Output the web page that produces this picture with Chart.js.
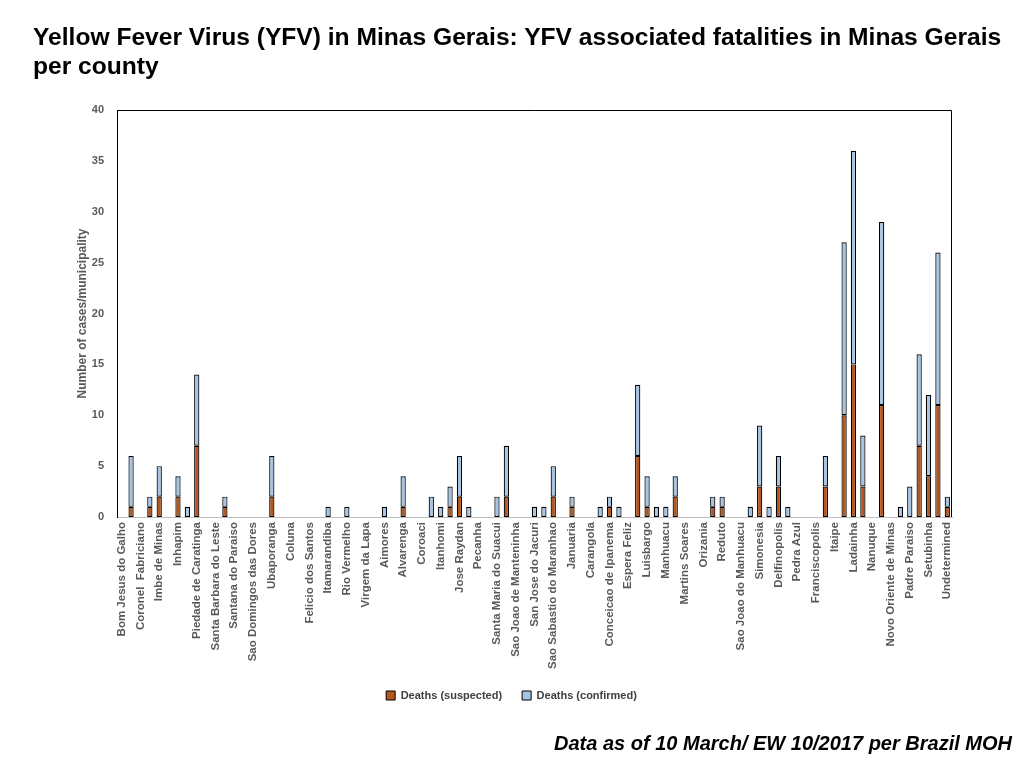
<!DOCTYPE html>
<html>
<head>
<meta charset="utf-8">
<title>YFV fatalities in Minas Gerais</title>
<script src="https://cdn.jsdelivr.net/npm/chart.js@4"></script>
<style>
    html, body { margin: 0; padding: 0; background: #fff; }
    body { width: 1024px; height: 768px; position: relative; overflow: hidden; font-family: "Liberation Sans", Arial, sans-serif; }
    #title { position: absolute; left: 33px; top: 22px; font-size: 24.6px; font-weight: bold; line-height: 29px; color: #000; z-index: 2; white-space: nowrap; }
    #footer { position: absolute; right: 12px; top: 732px; font-size: 20px; font-weight: bold; font-style: italic; color: #000; z-index: 2; }
    #wrap { position: absolute; left: 0; top: 0; width: 1024px; height: 768px; }
</style>
</head>
<body>
<div id="title">Yellow Fever Virus (YFV) in Minas Gerais: YFV associated fatalities in Minas Gerais<br>per county</div>
<div id="wrap"><canvas id="yfvChart"></canvas></div>
<div id="footer">Data as of 10 March/ EW 10/2017 per Brazil MOH</div>

<script>
// Municipalities (only every other label is printed in the source chart)
const shownNames = [
    'Bom Jesus do Galho', 'Coronel  Fabriciano', 'Imbe de Minas', 'Inhapim', 'Piedade de Caratinga',
    'Santa Barbara do Leste', 'Santana do Paraiso', 'Sao Domingos das Dores', 'Ubaporanga', 'Coluna',
    'Felicio dos Santos', 'Itamarandiba', 'Rio Vermelho', 'Virgem da Lapa', 'Aimores',
    'Alvarenga', 'Coroaci', 'Itanhomi', 'Jose Raydan', 'Pecanha',
    'Santa Maria do Suacui', 'Sao Joao de Manteninha', 'San Jose do Jacuri', 'Sao Sabastio do Maranhao', 'Januaria',
    'Carangola', 'Conceicao de Ipanema', 'Espera Feliz', 'Luisbargo', 'Manhuacu',
    'Martins Soares', 'Orizania', 'Reduto', 'Sao Joao do Manhuacu', 'Simonesia',
    'Delfinopolis', 'Pedra Azul', 'Franciscopolis', 'Itaipe', 'Ladainha',
    'Nanuque', 'Novo Oriente de Minas', 'Padre Paraiso', 'Setubinha', 'Undetermined'
];

// Deaths (suspected) per municipality, 89 categories
const suspected = [
    0, 1, 0, 1, 2, 0, 2, 0, 7, 0,
    0, 1, 0, 0, 0, 0, 2, 0, 0, 0,
    0, 0, 0, 0, 0, 0, 0, 0, 0, 0,
    1, 0, 0, 0, 0, 1, 2, 0, 0, 0,
    0, 2, 0, 0, 0, 0, 2, 0, 1, 0,
    0, 0, 1, 0, 0, 6, 1, 0, 0, 2,
    0, 0, 0, 1, 1, 0, 0, 0, 3, 0,
    3, 0, 0, 0, 0, 3, 0, 10, 15, 3,
    0, 11, 0, 0, 0, 7, 4, 11, 1
];

// Deaths (confirmed) per municipality
const confirmed = [
    0, 5, 0, 1, 3, 0, 2, 1, 7, 0,
    0, 1, 0, 0, 0, 0, 4, 0, 0, 0,
    0, 0, 1, 0, 1, 0, 0, 0, 1, 0,
    3, 0, 0, 2, 1, 2, 4, 1, 0, 0,
    2, 5, 0, 0, 1, 1, 3, 0, 1, 0,
    0, 1, 1, 1, 0, 7, 3, 1, 1, 2,
    0, 0, 0, 1, 1, 0, 0, 1, 6, 1,
    3, 1, 0, 0, 0, 3, 0, 17, 21, 5,
    0, 18, 0, 1, 3, 9, 8, 15, 1
];

const yTicks = [0, 5, 10, 15, 20, 25, 30, 35, 40];

// labels at even positions, blanks in between
const labels = suspected.map((v, i) => (i % 2 === 0 ? shownNames[i / 2] : ''));

const fontFamily = '"Liberation Sans", Arial, sans-serif';
const tickFont = { family: fontFamily, size: 11, weight: 'bold' };

// black frame on top and right of the plot area
const framePlugin = {
    id: 'frame',
    afterDraw(chart) {
        const { ctx, chartArea: a } = chart;
        ctx.save();
        ctx.strokeStyle = '#000';
        ctx.lineWidth = 1;
        ctx.beginPath();
        ctx.moveTo(a.left, a.top + 0.5);
        ctx.lineTo(a.right - 0.5, a.top + 0.5);
        ctx.lineTo(a.right - 0.5, a.bottom);
        ctx.stroke();
        ctx.restore();
    }
};

const ctx = document.getElementById('yfvChart').getContext('2d');
new Chart(ctx, {
    type: 'bar',
    data: {
        labels: labels,
        datasets: [
            {
                label: 'Deaths (suspected)',
                data: suspected,
                backgroundColor: '#b5561e',
                borderColor: '#000',
                borderWidth: c => (c.raw ? 1.2 : 0),
                borderSkipped: false,
                inflateAmount: 0
            },
            {
                label: 'Deaths (confirmed)',
                data: confirmed,
                backgroundColor: '#a6c4e4',
                borderColor: '#000',
                borderWidth: c => (c.raw ? 1.2 : 0),
                borderSkipped: false,
                inflateAmount: 0
            }
        ]
    },
    options: {
        responsive: true,
        maintainAspectRatio: false,
        animation: false,
        layout: { padding: { left: 71, right: 72, top: 110, bottom: 57 } },
        datasets: { bar: { categoryPercentage: 1, barPercentage: 0.56 } },
        plugins: {
            legend: {
                position: 'bottom',
                labels: {
                    boxWidth: 9,
                    boxHeight: 9,
                    padding: 20,
                    color: '#404040',
                    font: tickFont,
                    generateLabels: chart => Chart.defaults.plugins.legend.labels.generateLabels(chart)
                        .map(item => ({ ...item, lineWidth: 1 }))
                }
            },
            tooltip: { enabled: false }
        },
        scales: {
            x: {
                stacked: true,
                grid: { display: false, drawTicks: false },
                border: { display: true, color: '#bfbfbf' },
                ticks: {
                    autoSkip: false,
                    maxRotation: 90,
                    minRotation: 90,
                    padding: 5,
                    color: '#595959',
                    font: { family: fontFamily, size: 11.5, weight: 'bold' }
                },
                afterFit: s => { s.height = 153; }
            },
            y: {
                stacked: true,
                min: 0,
                max: 40,
                afterBuildTicks: s => { s.ticks = yTicks.map(v => ({ value: v })); },
                grid: { display: false, drawTicks: false },
                border: { display: true, color: '#000' },
                ticks: { padding: 13, color: '#595959', font: tickFont },
                title: {
                    display: true,
                    text: 'Number of cases/municipality',
                    color: '#595959',
                    padding: { top: 4, bottom: 4 },
                    font: { family: fontFamily, size: 12, weight: 'bold' }
                },
                afterFit: s => { s.width = 46; }
            }
        }
    },
    plugins: [framePlugin]
});
</script>
</body>
</html>
